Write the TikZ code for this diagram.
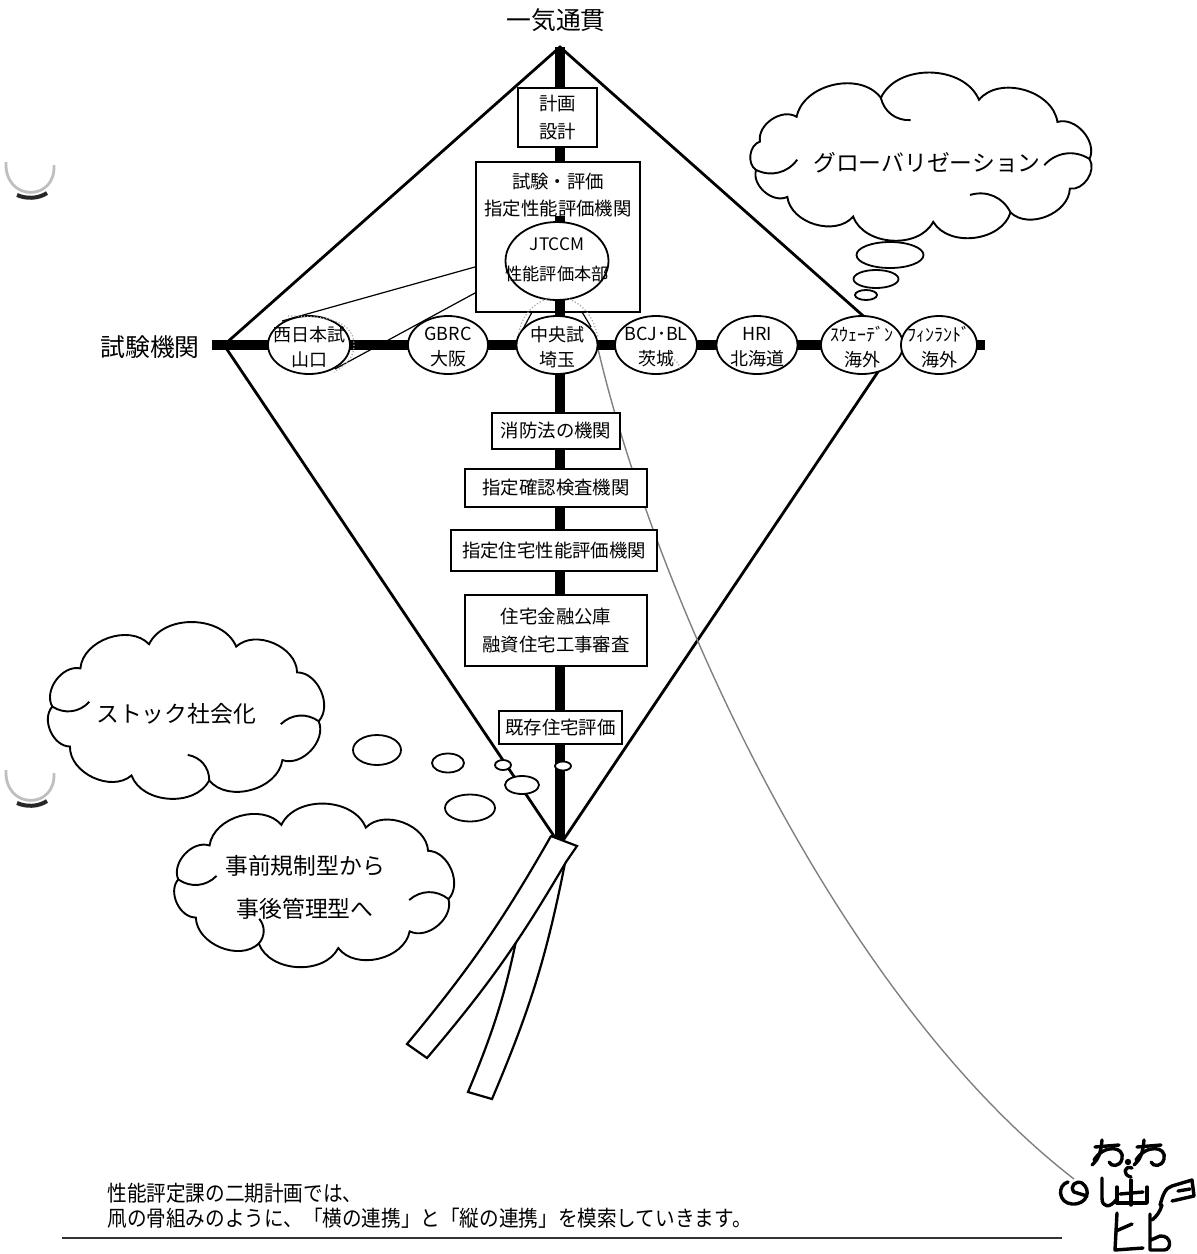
\documentclass[tikz,border=0pt]{standalone}
\usepackage{fontspec}
\setmainfont{Noto Sans CJK JP}
\newfontfamily\notefont{Noto Sans CJK JP}[FakeStretch=0.9]
\usetikzlibrary{calc,shapes.geometric}

% scalloped cloud: centre (#1,#2), puff ring half axes #3,#4, ring angles #5 (first = last)
\newcommand\puffcloud[5]{%
  \draw[cloudline,fill=white]
    \foreach \t [count=\c] in {#5}{
      \ifnum\c=1 ({#1+#3*cos(\t)},{#2+#4*sin(\t)}) \else
      to[bend left=66] ({#1+#3*cos(\t)},{#2+#4*sin(\t)}) \fi
    };
}
% inner curl of a cloud leaving the ring at angle #5
\newcommand\puffhook[5]{%
  \draw[cloudline] ({#1+#3*cos(#5)},{#2+#4*sin(#5)})
    to[bend right=40] ({#1+0.74*#3*cos(#5+9)},{#2+0.62*#4*sin(#5+9)});
}
% one hand-drawn eye, top-left corner at (#1,#2)
\newcommand\flyereye[2]{%
  \draw ({#1+3},{#2+7}) -- ({#1+27},{#2+5});
  \draw ({#1+10},{#2}) .. controls ({#1+9},{#2+13}) and ({#1+6},{#2+20}) .. ({#1},{#2+25});
  \draw ({#1+2},{#2+20}) .. controls ({#1+12},{#2+4}) and ({#1+33},{#2+6}) .. ({#1+30},{#2+19})
        .. controls ({#1+28},{#2+27}) and ({#1+19},{#2+27}) .. ({#1+17},{#2+22});
}

\begin{document}
\begin{tikzpicture}[x=0.5pt,y=-0.5pt,
  kiteline/.style={line width=1.4pt,line cap=round},
  spine/.style={line width=4.6pt},
  box/.style={draw,line width=0.9pt,fill=white,rectangle,inner sep=0pt},
  boxtxt/.style={align=center,inner sep=0pt,font=\fontsize{9.2}{14}\selectfont},
  orb/.style={draw,line width=0.9pt,fill=white,ellipse,inner sep=0pt,minimum width=41pt,minimum height=29pt},
  orbtxt/.style={align=center,inner sep=0pt,font=\fontsize{9}{12.5}\selectfont},
  bub/.style={draw,line width=0.9pt,fill=white,ellipse,inner sep=0pt},
  callout/.style={line width=0.6pt},
  hl/.style={draw=black!35,line width=0.6pt,densely dotted},
  cloudline/.style={line width=0.95pt},
  cloudtxt/.style={align=center,inner sep=0pt,font=\fontsize{11.4}{21.5}\selectfont},
  bigtxt/.style={inner sep=0pt,font=\fontsize{12.4}{14}\selectfont},
  doodle/.style={line width=1.7pt,line cap=round,line join=round},
]
\useasboundingbox (0,0) rectangle (1196,1254);

% binder-hole shadows on the left margin
\foreach \yy in {160,768}{
  \draw[black!25,line width=1.4pt] (6,\yy+2) .. controls (4,\yy+42) and (56,\yy+42) .. (54,\yy+5);
  \draw[black!85,line width=2pt] (17,\yy+35) .. controls (26,\yy+39) and (38,\yy+39) .. (47,\yy+33);
}

% kite frame
\coordinate (top) at (560,47);
\coordinate (lv) at (224,345);
\coordinate (rv) at (896,345);
\coordinate (bot) at (560,845);
\draw[kiteline] (top) -- (lv) -- (bot) -- (rv) -- cycle;

% kite string
\coordinate (s0) at (596,340);
\coordinate (hand) at (1074,1179);
\draw[black!50,line width=0.7pt] (s0) .. controls (650,580) and (830,990) .. (hand);

% spars
\draw[spine] (top) -- (560,840);
\draw[spine] (212,345) -- (985,345);

% callout lines from the head office
\draw[callout] (507,258) -- (282,321);
\draw[callout] (510,274) -- (335,369);
\draw[callout] (540,297) -- (523,329);
\draw[callout] (573,297) -- (591,327);

% vertical chain
\node[box,minimum width=39.5pt,minimum height=29.5pt] (plan) at (557.5,117.5) {};
\node[boxtxt] (plantxt) at (plan) {計画\\設計};
\node[box,minimum width=82pt,minimum height=75pt] (evalbox) at (558,237) {};
\node[boxtxt,font=\fontsize{9.2}{13.5}\selectfont] (evaltxt) at (558,195) {試験・評価\\指定性能評価機関};
\draw[spine] (560,216) -- (560,311);
\node[orb,minimum width=51.5pt,minimum height=39pt] (jtccm) at (557,261) {};
\node[orbtxt,font=\fontsize{8.6}{15}\selectfont] (jtccmtxt) at (557,260) {JTCCM\\性能評価本部};

\node[box,minimum width=64pt,minimum height=18pt] (fire) at (556,431) {};
\node[boxtxt] (firetxt) at (fire) {消防法の機関};
\node[box,minimum width=91pt,minimum height=19pt] (check) at (556,488) {};
\node[boxtxt] (checktxt) at (check) {指定確認検査機関};
\node[box,minimum width=103pt,minimum height=20.5pt] (house) at (554,550.5) {};
\node[boxtxt] (housetxt) at (house) {指定住宅性能評価機関};
\node[box,minimum width=91pt,minimum height=35.5pt] (loan) at (556,630.5) {};
\node[boxtxt] (loantxt) at (loan) {住宅金融公庫\\融資住宅工事審査};
\node[box,minimum width=61.5pt,minimum height=16.5pt] (exist) at (560.5,727.5) {};
\node[boxtxt] (existtxt) at (exist) {既存住宅評価};

% horizontal chain of laboratories
\node[orb] (nishi) at (309,345) {};
\node[orbtxt] (nishitxt) at (309,347) {西日本試\\山口};
\node[orb,minimum width=40pt] (gbrc) at (448,345) {};
\node[orbtxt] (gbrctxt) at (448,347) {GBRC\\大阪};
\node[orb,minimum width=40.5pt] (chuo) at (557,345) {};
\node[orbtxt] (chuotxt) at (557,347) {中央試\\埼玉};
\node[orb] (bcj) at (656,345) {};
\node[orbtxt] (bcjtxt) at (656,347) {BCJ･BL\\茨城};
\node[orb,minimum width=40.5pt] (hri) at (757,345) {};
\node[orbtxt] (hritxt) at (757,347) {HRI\\北海道};
\node[orb] (swe) at (862,345) {};
\node[orbtxt] (swetxt) at (862,347) {ｽｳｪｰﾃﾞﾝ\\海外};
\node[orb,minimum width=38pt] (fin) at (939,345) {};
\node[orbtxt] (fintxt) at (939,347) {ﾌｨﾝﾗﾝﾄﾞ\\海外};

% pencil highlights
\draw[hl] (288,316) to[out=0,in=90] (354,345) to[out=-90,in=30] (334,372);
\draw[hl] (519,333) .. controls (522,312) and (538,301) .. (550,298);
\draw[hl] (566,298) .. controls (582,303) and (594,316) .. (598,338);
\draw[hl] (669,356) .. controls (676,360) and (680,364) .. (680,370);

% headings
\node[bigtxt] (apex) at (556,20) {一気通貫};
\node[bigtxt] (labs) at (150,347) {試験機関};

% thought clouds
\puffcloud{921.5}{159}{168}{63}{0,28,58,86,114,143,170,196,222,256,290,324,360}
\puffhook{921.5}{159}{168}{63}{170}
\puffhook{921.5}{159}{168}{63}{0}
\puffhook{921.5}{159}{168}{63}{256}
\puffhook{921.5}{159}{168}{63}{58}
\node[cloudtxt] (globtxt) at (927,163) {グローバリゼーション};
\node[bub,minimum width=33.5pt,minimum height=13pt] (g1) at (890,255) {};
\node[bub,minimum width=22.5pt,minimum height=9pt] (g2) at (876,279) {};
\node[bub,minimum width=11pt,minimum height=5pt] (g3) at (866,295) {};

\puffcloud{186}{711.5}{134}{70}{8,44,80,114,150,184,218,254,292,326,368}
\puffhook{186}{711.5}{134}{70}{8}
\puffhook{186}{711.5}{134}{70}{184}
\puffhook{186}{711.5}{134}{70}{80}
\node[cloudtxt] (stocktxt) at (176,714) {ストック社会化};

\puffcloud{314.5}{886}{137}{63}{12,46,80,114,150,186,220,256,292,326,372}
\puffhook{314.5}{886}{137}{63}{12}
\puffhook{314.5}{886}{137}{63}{186}
\puffhook{314.5}{886}{137}{63}{114}
\node[cloudtxt] (shifttxt) at (305,887) {事前規制型から\\事後管理型へ};

\node[bub,minimum width=24pt,minimum height=15pt] (s1) at (377,750) {};
\node[bub,minimum width=16pt,minimum height=9.5pt] (s2) at (448,763) {};
\node[bub,minimum width=8pt,minimum height=5pt] (s3) at (503,765) {};
\node[bub,minimum width=17pt,minimum height=9pt] (s4) at (522,785) {};
\node[bub,minimum width=25pt,minimum height=13.5pt] (s5) at (470,808) {};
\node[bub,minimum width=8pt,minimum height=4.5pt] (s6) at (563,766) {};

% tail ribbons
\draw[kiteline,line width=1.1pt,fill=white] (566,858) to[bend left=6] (492,1099) -- (468,1092) to[bend right=6] (521,916) -- (545,860) -- cycle;
\draw[kiteline,line width=1.1pt,fill=white] (551,836) -- (577,846) -- (566,862) to[bend left=5] (427,1058) -- (407,1044) to[bend right=5] (551,836);

% caption
\node[anchor=west,inner sep=0pt,font=\notefont\fontsize{10.9}{12}\selectfont] (note1) at (107,1193) {性能評定課の二期計画では、};
\node[anchor=west,inner sep=0pt,font=\notefont\fontsize{10.9}{12}\selectfont] (note2) at (107,1218) {凧の骨組みのように、「横の連携」と「縦の連携」を模索していきます。};
\draw[black!80,line width=1.2pt] (62,1238) -- (1062,1238);

% the kite flyer
\begin{scope}[doodle]
  % eyes
  \flyereye{1092}{1140}
  \flyereye{1134}{1140}
  % nose
  \draw (1132,1168) .. controls (1124,1165) and (1122,1175) .. (1131,1177);
  \fill (1128,1162) circle (1.6pt);
  % mouth
  \draw (1131,1180) -- (1131,1205);
  \draw (1117,1187) -- (1117,1203) -- (1147,1203) -- (1147,1187);
  \draw (1120,1194) -- (1143,1192);
  % hand holding the string and arm
  \draw (1068,1182) .. controls (1057,1185) and (1058,1203) .. (1072,1204) .. controls (1087,1205) and (1092,1190) .. (1082,1183) .. controls (1076,1180) and (1069,1186) .. (1074,1192) -- (1087,1196);
  \draw (1102,1178) -- (1102,1198) .. controls (1102,1208) and (1110,1208) .. (1116,1200);
  % right hand and arm
  \draw (1160,1205) .. controls (1163,1195) and (1165,1188) .. (1172,1186) -- (1192,1180) -- (1194,1196) -- (1172,1201);
  \draw (1178,1191) -- (1190,1189);
  \draw (1162,1205) .. controls (1160,1212) and (1156,1217) .. (1152,1220);
  % legs
  \draw (1117,1213) -- (1115,1250) -- (1143,1248);
  \draw (1116,1231) -- (1132,1224);
  \draw (1150,1214) -- (1150,1250) -- (1164,1250) .. controls (1172,1250) and (1172,1235) .. (1160,1236) -- (1151,1240);
\end{scope}
\end{tikzpicture}
\end{document}
